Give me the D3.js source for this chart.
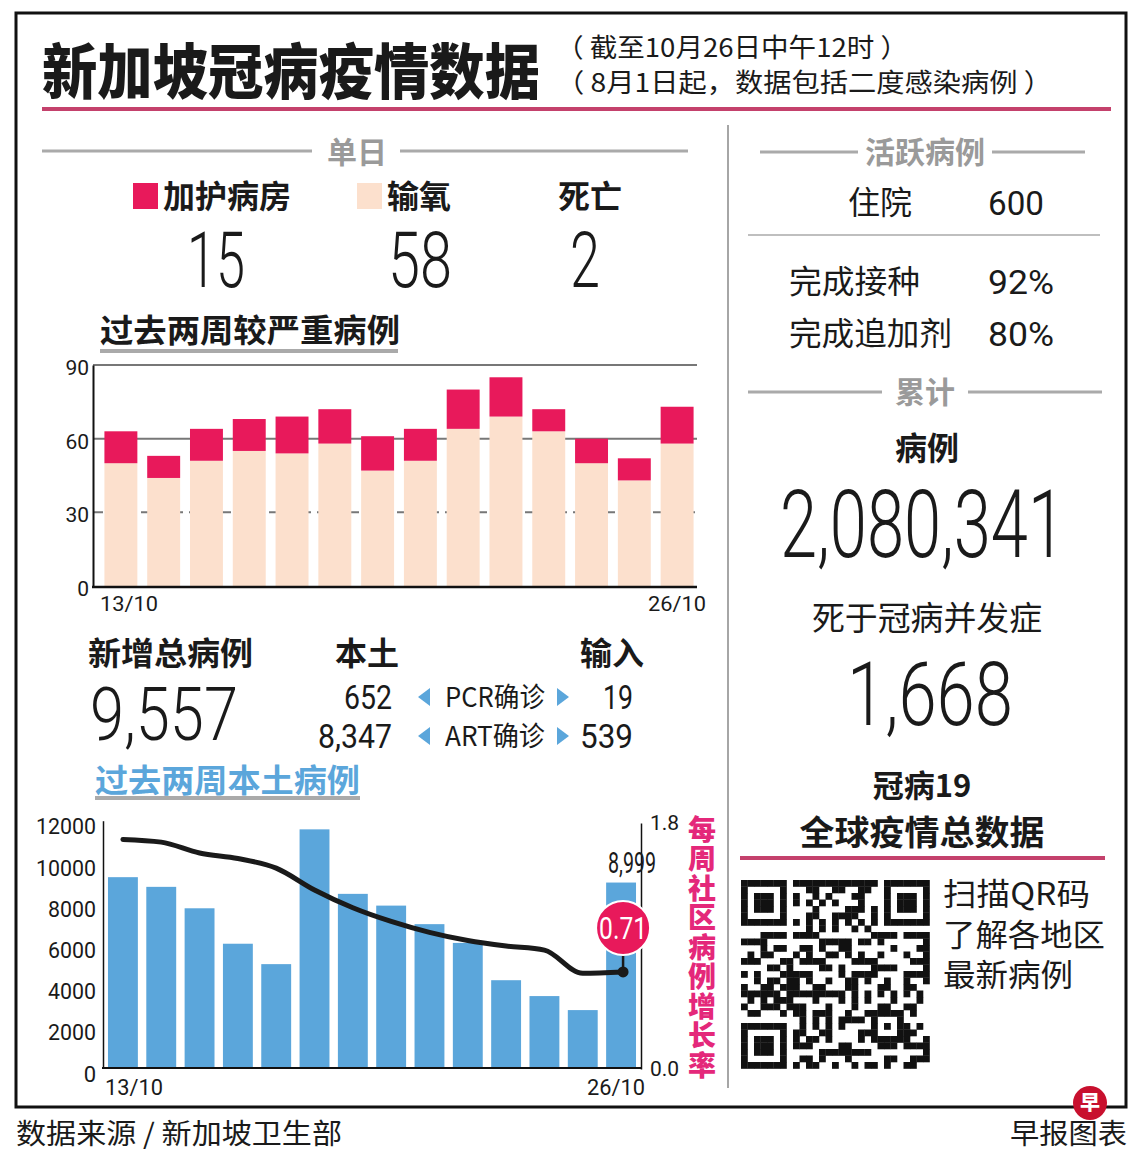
<!DOCTYPE html>
<html>
<head>
<meta charset="utf-8">
<script src="https://cdn.jsdelivr.net/npm/d3@7"></script>
<style>
  html, body { margin: 0; padding: 0; background: #fff; }
  svg { display: block; }
  text { font-family: "Noto Sans CJK SC", "Noto Sans", sans-serif; fill: #1a1a1a; }
  .num { font-family: Roboto, "Noto Sans", sans-serif; font-weight: 300; }
</style>
</head>
<body>
<script>
const width = 1140;
const height = 1156;

// 过去两周较严重病例 (13/10 - 26/10)
const days = ["13/10","14/10","15/10","16/10","17/10","18/10","19/10",
              "20/10","21/10","22/10","23/10","24/10","25/10","26/10"];
const oxygen = [50, 44, 51, 55, 54, 58, 47, 51, 64, 69, 63, 50, 43, 58];
const icu    = [13,  9, 13, 13, 15, 14, 14, 13, 16, 16,  9, 10,  9, 15];
const severeTicks = [0, 30, 60, 90];

// 过去两周本土病例 + 每周社区病例增长率
const localCases = [9260, 8790, 7750, 6030, 5040, 11580, 8450, 7880, 6980, 6070, 4260, 3490, 2810, 8999];
const growthRate = [1.68, 1.66, 1.58, 1.54, 1.47, 1.31, 1.18, 1.08, 1.00, 0.94, 0.90, 0.87, 0.70, 0.71];
const caseTicks = [0, 2000, 4000, 6000, 8000, 10000, 12000];
const rateTicks = [0, 1.8];

// 单日 / 累计 figures
const dailyLabels = ["加护病房", "输氧", "死亡"];
const dailyValues = ["15", "58", "2"];
const newTotal = "9,557";
const splitRows = ["PCR确诊", "ART确诊"];
const localSplit = ["652", "8,347"];
const importSplit = ["19", "539"];
const qrLines = ["扫描QR码", "了解各地区", "最新病例"];

const pink = "#e8195b";
const beige = "#fce0cd";
const blue = "#5ba6db";
const gray = "#9a9a9a";

const svg = d3.select("body").append("svg")
  .attr("width", width).attr("height", height);

function txt(x, y, s, o = {}) {
  const t = svg.append("text")
    .attr("x", x).attr("y", y)
    .attr("text-anchor", o.anchor || "start")
    .style("font-size", (o.size || 30) + "px")
    .style("font-weight", o.weight || 400)
    .text(s);
  if (o.cls) t.attr("class", o.cls);
  if (o.fill) t.style("fill", o.fill);
  if (o.len) t.attr("textLength", o.len).attr("lengthAdjust", "spacingAndGlyphs");
  return t;
}
// condensed number: squeeze the text horizontally to width w
function ntxt(x, y, s, size, w, o = {}) {
  const g = svg.append("g");
  const t = g.append("text").attr("class", "num")
    .attr("text-anchor", o.anchor || "start")
    .style("font-size", size + "px")
    .style("font-weight", o.weight || 300)
    .text(s);
  if (o.fill) t.style("fill", o.fill);
  const k = w / t.node().getComputedTextLength();
  g.attr("transform", `translate(${x},${y}) scale(${k},1)`);
  return t;
}
function hline(x1, x2, y, color, w) {
  svg.append("line").attr("x1", x1).attr("x2", x2).attr("y1", y).attr("y2", y)
    .attr("stroke", color).attr("stroke-width", w);
}

// frame
svg.append("rect").attr("x", 16).attr("y", 13).attr("width", 1110).attr("height", 1094)
  .attr("fill", "none").attr("stroke", "#111").attr("stroke-width", 3);
svg.append("line").attr("x1", 728).attr("x2", 728).attr("y1", 125).attr("y2", 1088)
  .attr("stroke", "#888").attr("stroke-width", 1.5);

// title
txt(42, 94, "新加坡冠病疫情数据", {size: 60, weight: 900, len: 498});
txt(556, 57, "（ 截至10月26日中午12时 ）", {size: 26, len: 352});
txt(556, 92, "（ 8月1日起，数据包括二度感染病例 ）", {size: 26, len: 496});
hline(42, 1111, 109, "#c4416c", 4);

// 单日
hline(42, 312, 151, "#aaa", 3);
hline(400, 688, 151, "#aaa", 3);
txt(357, 163, "单日", {size: 30, weight: 700, anchor: "middle", fill: gray});

const legendX = [133, 357, 558];
const legendColor = [pink, beige, null];
dailyLabels.forEach((d, i) => {
  let x = legendX[i];
  if (legendColor[i]) {
    svg.append("rect").attr("x", x).attr("y", 183).attr("width", 25).attr("height", 26)
      .attr("fill", legendColor[i]);
    x += 30;
  }
  txt(x, 208, d, {size: 32, weight: 700});
});
const dailyCx = [216, 420, 585];
const dailyLen = [58, 64, 30];
dailyValues.forEach((d, i) => ntxt(dailyCx[i], 287, d, 77, dailyLen[i], {anchor: "middle"}));

// 过去两周较严重病例
txt(100, 342, "过去两周较严重病例", {size: 32, weight: 700, len: 300});
hline(100, 398, 351, "#aaa", 4);

// severe chart
const x1 = d3.scaleBand().domain(days).range([98, 700]).paddingInner(0.23).paddingOuter(0.15);
const y1 = d3.scaleLinear().domain([0, 90]).range([586, 365]);

const g1 = svg.append("g");
g1.selectAll(".grid").data(severeTicks.filter(d => d > 0)).join("line")
  .attr("x1", 93).attr("x2", 697)
  .attr("y1", d => y1(d)).attr("y2", d => y1(d))
  .attr("stroke", "#777").attr("stroke-width", 2)
  .attr("stroke-dasharray", d => d === 30 ? "10,6" : null);

g1.selectAll(".ox").data(days).join("rect")
  .attr("x", d => x1(d)).attr("width", x1.bandwidth())
  .attr("y", (d, i) => y1(oxygen[i]))
  .attr("height", (d, i) => y1(0) - y1(oxygen[i]))
  .attr("fill", beige);
g1.selectAll(".icu").data(days).join("rect")
  .attr("x", d => x1(d)).attr("width", x1.bandwidth())
  .attr("y", (d, i) => y1(oxygen[i] + icu[i]))
  .attr("height", (d, i) => y1(oxygen[i]) - y1(oxygen[i] + icu[i]))
  .attr("fill", pink);

g1.append("g").attr("transform", "translate(93,0)")
  .call(d3.axisLeft(y1).tickValues(severeTicks).tickSize(0).tickPadding(4))
  .call(g => g.select(".domain").attr("stroke", "#111").attr("stroke-width", 2))
  .call(g => g.selectAll("text").attr("class", "num").style("font-size", "21px")
    .style("font-weight", 400).attr("dy", "0.45em"));
hline(92, 697, 587, "#111", 2.5);
txt(100, 611, days[0], {size: 21, cls: "num", len: 58}).style("font-weight", 400);
txt(706, 611, days[days.length - 1], {size: 21, cls: "num", anchor: "end", len: 58}).style("font-weight", 400);

// 新增总病例
txt(88, 665, "新增总病例", {size: 32, weight: 700, len: 165});
txt(335, 665, "本土", {size: 32, weight: 700});
txt(580, 665, "输入", {size: 32, weight: 700});
ntxt(90, 740, newTotal, 75, 148);
splitRows.forEach((d, i) => {
  const yy = 697 + i * 39;
  ntxt(392, yy + 12, localSplit[i], 33, i === 0 ? 48 : 74, {anchor: "end", weight: 400});
  ntxt(633, yy + 12, importSplit[i], 33, i === 0 ? 30 : 53, {anchor: "end", weight: 400});
  txt(445, yy + 10, d, {size: 27, len: 100});
  svg.append("path").attr("d", `M430,${yy - 9}L418,${yy}L430,${yy + 9}Z`).attr("fill", blue);
  svg.append("path").attr("d", `M557,${yy - 9}L569,${yy}L557,${yy + 9}Z`).attr("fill", blue);
});

// 过去两周本土病例
txt(95, 792, "过去两周本土病例", {size: 32, weight: 700, fill: blue, len: 265});
hline(95, 360, 798, "#aaa", 4);

const x2 = d3.scaleBand().domain(days).range([103, 641]).paddingInner(0.22).paddingOuter(0.13);
const y2 = d3.scaleLinear().domain([0, 12000]).range([1068, 820.7]);
const y3 = d3.scaleLinear().domain([0, 1.8]).range([1069, 823]);

const g2 = svg.append("g");
g2.selectAll("rect").data(days).join("rect")
  .attr("x", d => x2(d)).attr("width", x2.bandwidth())
  .attr("y", (d, i) => y2(localCases[i]))
  .attr("height", (d, i) => y2(0) - y2(localCases[i]))
  .attr("fill", blue);

g2.append("g").attr("transform", "translate(103,0)")
  .call(d3.axisLeft(y2).tickValues(caseTicks).tickSize(0).tickPadding(7).tickFormat(d3.format("d")))
  .call(g => g.select(".domain").attr("stroke", "#111").attr("stroke-width", 1.5))
  .call(g => g.selectAll("text").attr("class", "num").style("font-size", "22px")
    .style("font-weight", 400).attr("dy", "0.6em")
    .attr("textLength", d => d === 0 ? null : (d >= 10000 ? 60 : 48))
    .attr("lengthAdjust", "spacingAndGlyphs"));
hline(102, 641, 1068, "#111", 2);

g2.append("g").attr("transform", "translate(641,0)")
  .call(d3.axisRight(y3).tickValues(rateTicks).tickSize(0).tickPadding(9).tickFormat(d3.format(".1f")))
  .call(g => g.select(".domain").attr("stroke", "#111").attr("stroke-width", 1.5))
  .call(g => g.selectAll("text").attr("class", "num").style("font-size", "21px")
    .style("font-weight", 400).attr("dy", "0.3em"));

const line = d3.line()
  .x((d, i) => x2(days[i]) + x2.bandwidth() / 2 + (i === days.length - 1 ? 2 : 0))
  .y(d => y3(d))
  .curve(d3.curveMonotoneX);
g2.append("path").datum(growthRate)
  .attr("fill", "none").attr("stroke", "#1a1a1a").attr("stroke-width", 5)
  .attr("stroke-linejoin", "round").attr("stroke-linecap", "round")
  .attr("d", line);

const li = days.length - 1;
const lx = x2(days[li]) + x2.bandwidth() / 2 + 2;
const ly = y3(growthRate[li]);
g2.append("line").attr("x1", lx).attr("x2", lx).attr("y1", ly).attr("y2", ly - 44)
  .attr("stroke", "#1a1a1a").attr("stroke-width", 2.5);
g2.append("circle").attr("cx", lx).attr("cy", ly).attr("r", 5.5).attr("fill", "#1a1a1a");
g2.append("circle").attr("cx", lx).attr("cy", ly - 44).attr("r", 27)
  .attr("fill", pink).attr("stroke", "#fff").attr("stroke-width", 2);
ntxt(lx, ly - 33, d3.format(".2f")(growthRate[li]), 32, 48, {anchor: "middle", fill: "#fff", weight: 400});
ntxt(x2(days[li]) + x2.bandwidth() / 2 + 11, y2(localCases[li]) - 10, d3.format(",")(localCases[li]),
  30, 48, {anchor: "middle", weight: 400});

txt(105, 1095, days[0], {size: 22, cls: "num", len: 58}).style("font-weight", 400);
txt(645, 1095, days[li], {size: 22, cls: "num", anchor: "end", len: 58}).style("font-weight", 400);

svg.append("text")
  .attr("x", 702).attr("y", 815)
  .style("writing-mode", "vertical-rl")
  .style("font-size", "28px").style("font-weight", 900)
  .style("letter-spacing", "1.5px")
  .style("fill", "#e4287a")
  .text("每周社区病例增长率");

// 活跃病例
hline(760, 858, 152, "#aaa", 3);
hline(992, 1085, 152, "#aaa", 3);
txt(925, 163, "活跃病例", {size: 30, weight: 700, anchor: "middle", fill: gray});
txt(848, 214, "住院", {size: 32});
ntxt(988, 215, "600", 34, 56, {weight: 400});
hline(748, 1100, 235, "#aaa", 1.5);
txt(789, 293, "完成接种", {size: 32, len: 131});
ntxt(988, 294, "92%", 34, 66, {weight: 400});
txt(789, 345, "完成追加剂", {size: 32, len: 163});
ntxt(988, 346, "80%", 34, 66, {weight: 400});

// 累计
hline(748, 882, 392, "#aaa", 3);
hline(968, 1102, 392, "#aaa", 3);
txt(925, 403, "累计", {size: 30, weight: 700, anchor: "middle", fill: gray});
txt(927, 460, "病例", {size: 32, weight: 700, anchor: "middle"});
ntxt(780, 557, "2,080,341", 94, 285);
txt(927, 630, "死于冠病并发症", {size: 33, anchor: "middle", len: 230});
ntxt(847, 725, "1,668", 89, 166);
txt(922, 797, "冠病19", {size: 31, weight: 700, anchor: "middle"});
txt(922, 845, "全球疫情总数据", {size: 34, weight: 700, anchor: "middle", len: 245});
hline(740, 1105, 858, "#c4416c", 4);

// QR block
const qn = 29, qs = 6.5, qx = 741, qy = 880;
const cells = [];
function finder(r, c) {
  return (r === 0 || r === 6 || c === 0 || c === 6) || (r >= 2 && r <= 4 && c >= 2 && c <= 4);
}
for (let r = 0; r < qn; r++) {
  for (let c = 0; c < qn; c++) {
    let on;
    if (r < 8 && c < 8) on = r < 7 && c < 7 && finder(r, c);
    else if (r < 8 && c >= qn - 8) on = r < 7 && c > qn - 8 && finder(r, c - (qn - 7));
    else if (r >= qn - 8 && c < 8) on = r > qn - 8 && c < 7 && finder(r - (qn - 7), c);
    else if (r >= 20 && r <= 24 && c >= 20 && c <= 24)
      on = r === 20 || r === 24 || c === 20 || c === 24 || (r === 22 && c === 22);
    else if (r === 6) on = c % 2 === 0;
    else if (c === 6) on = r % 2 === 0;
    else on = ((r * 37 + c * 61 + r * c * 13 + (r ^ c) * 7) % 17) < 8;
    if (on) cells.push([r, c]);
  }
}
svg.append("g").selectAll("rect").data(cells).join("rect")
  .attr("x", d => qx + d[1] * qs).attr("y", d => qy + d[0] * qs)
  .attr("width", qs + 0.3).attr("height", qs + 0.3).attr("fill", "#111");

const qrText = svg.append("text").style("font-size", "31px");
const qrLen = [147, 162, 130];
qrLines.forEach((d, i) => {
  qrText.append("tspan").attr("x", 943).attr("y", 905 + i * 40.5)
    .attr("textLength", qrLen[i]).attr("lengthAdjust", "spacingAndGlyphs")
    .text(d);
});

// footer
txt(16, 1144, "数据来源 / 新加坡卫生部", {size: 28, len: 326});
txt(1127, 1144, "早报图表", {size: 28, anchor: "end", len: 117});
svg.append("circle").attr("cx", 1090).attr("cy", 1103).attr("r", 17).attr("fill", "#c8102e");
txt(1090, 1110, "早", {size: 20, weight: 900, anchor: "middle", fill: "#fff"});
</script>
</body>
</html>
